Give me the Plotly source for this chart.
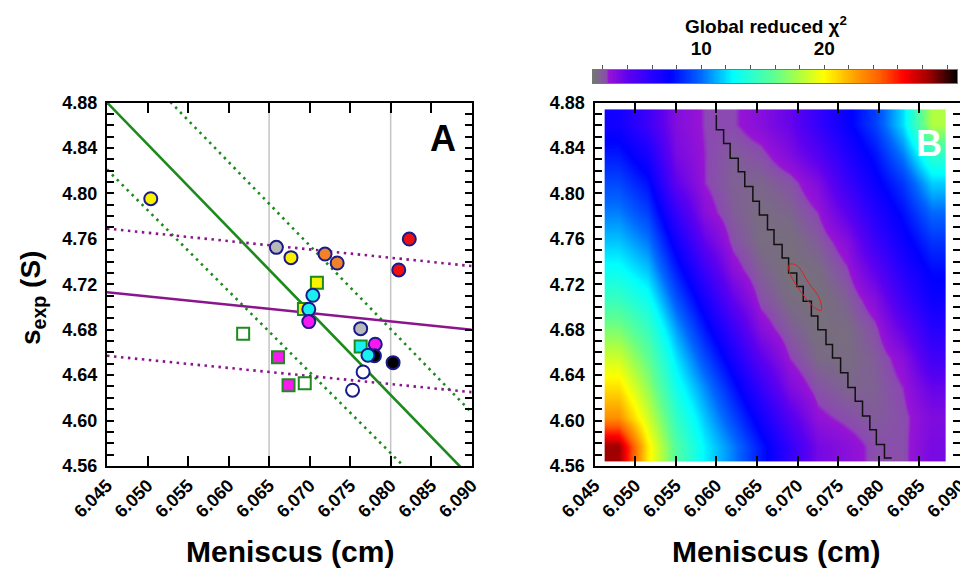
import numpy as np
import plotly.graph_objects as go

# ---------------- data : panel A ----------------
circle_meniscus = [6.0504, 6.0659, 6.0677, 6.0719, 6.0734, 6.0823, 6.0810, 6.0704, 6.0699,
                   6.0699, 6.0763, 6.0781, 6.0780, 6.0772, 6.0803, 6.0766, 6.0753]
circle_sexp = [4.7953, 4.7525, 4.7434, 4.7466, 4.7387, 4.7598, 4.7326, 4.7103, 4.6980,
               4.6871, 4.6809, 4.6672, 4.6570, 4.6575, 4.6510, 4.6428, 4.6267]
circle_group = ["yellow", "gray", "yellow", "orange", "orange", "red", "red", "cyan", "cyan",
                "magenta", "gray", "magenta", "black", "cyan", "black", "open", "open"]

square_meniscus = [6.0709, 6.0693, 6.0618, 6.0763, 6.0661, 6.0674, 6.0694]
square_sexp = [4.7214, 4.6982, 4.6765, 4.6651, 4.6557, 4.6311, 4.6329]
square_group = ["yellow", "yellow", "open", "cyan", "magenta", "magenta", "open"]

fit_meniscus = [6.045, 6.090]
green_fit = [4.880, 4.549]
green_upper = [4.938, 4.607]
green_lower = [4.821, 4.500]
purple_fit = [4.713, 4.680]
purple_upper = [4.769, 4.736]
purple_lower = [4.657, 4.625]

ref_meniscus = [6.065, 6.080]

# ---------------- data : panel B ----------------
grid_meniscus = [6.0480, 6.0515, 6.0550, 6.0585, 6.0620, 6.0655,
                 6.0690, 6.0725, 6.0760, 6.0795, 6.0830, 6.0865]
grid_sexp = [4.5772, 4.6030, 4.6288, 4.6546, 4.6804, 4.7062,
             4.7320, 4.7578, 4.7836, 4.8094, 4.8352, 4.8610]
chi2 = [
    [28.5, 20.5, 15.5, 12.4, 10.4, 8.0, 5.6, 3.4, 2.8, 2.2, 2.2, 3.3],
    [23.0, 18.8, 14.4, 11.6, 9.2, 6.8, 4.4, 2.6, 2.2, 1.9, 2.2, 3.1],
    [20.8, 17.3, 13.2, 10.6, 8.0, 5.5, 3.1, 2.1, 1.7, 1.8, 2.4, 3.8],
    [18.8, 16.0, 12.2, 9.3, 6.7, 4.1, 2.4, 1.6, 1.5, 1.9, 2.8, 5.0],
    [16.7, 14.6, 11.0, 8.0, 5.4, 2.9, 1.9, 1.4, 1.5, 2.2, 3.9, 6.0],
    [14.6, 13.1, 9.6, 6.7, 4.0, 2.2, 1.5, 1.3, 1.8, 2.9, 5.1, 7.0],
    [12.9, 11.6, 8.2, 5.3, 2.8, 1.8, 1.3, 1.5, 2.3, 4.0, 6.1, 7.7],
    [11.6, 10.3, 6.9, 3.9, 2.2, 1.5, 1.4, 1.9, 2.9, 5.2, 7.0, 8.7],
    [10.4, 9.0, 5.5, 2.8, 1.9, 1.5, 1.7, 2.4, 4.1, 6.2, 7.8, 10.0],
    [9.2, 7.8, 4.0, 2.4, 1.8, 1.7, 2.1, 3.1, 5.3, 7.1, 8.8, 11.8],
    [8.0, 6.5, 3.3, 2.4, 1.9, 2.2, 3.1, 4.4, 6.3, 7.9, 10.4, 14.3],
    [6.8, 5.2, 3.0, 2.35, 2.3, 2.9, 3.8, 5.5, 7.2, 9.0, 12.0, 18.0],
]
chi2_min, chi2_max = 1.2, 30.8

valley_sexp = [4.869, 4.856, 4.844, 4.831, 4.819, 4.806, 4.793, 4.781, 4.768, 4.755, 4.743,
               4.730, 4.718, 4.705, 4.692, 4.680, 4.667, 4.655, 4.642, 4.629, 4.617, 4.604,
               4.592, 4.579, 4.567]
valley_meniscus = [6.0600, 6.0609, 6.0617, 6.0627, 6.0635, 6.0645, 6.0653, 6.0663, 6.0671,
                   6.0681, 6.0689, 6.0699, 6.0707, 6.0717, 6.0725, 6.0735, 6.0743, 6.0753,
                   6.0762, 6.0771, 6.0780, 6.0789, 6.0797, 6.0807, 6.0816]

ellipse_meniscus = [6.0690, 6.0699, 6.0713, 6.0727, 6.0729, 6.0720, 6.0703, 6.0690, 6.0690]
ellipse_sexp = [4.7374, 4.7366, 4.7219, 4.7073, 4.6970, 4.6999, 4.7146, 4.7307, 4.7374]

colorbar_minor_ticks = list(range(2, 31, 2))
colorbar_labelled_ticks = [10, 20]

# ---------------- styles ----------------
FONT = "Liberation Sans"
fill_colors = {"yellow": "#fbf200", "gray": "#b8b8b8", "orange": "#f0822a", "red": "#ee1010",
               "cyan": "#18f0f0", "magenta": "#f818f0", "black": "#000000", "open": "#ffffff"}
GREEN = "#1c8a1c"
PURPLE = "#8a168e"
NAVY = "#1a1a8a"
stops = [(1.2, "#747474"), (1.6, "#7a6a86"), (2.0, "#8458a0"), (2.35, "#8c48b4"),
         (2.45, "#9614d4"), (4.1, "#5c00f0"), (6.1, "#2400ff"), (7.5, "#0000ff"),
         (10.0, "#0068ff"), (12.6, "#00ffff"), (16.0, "#60ff90"), (18.0, "#b0ff40"),
         (20.0, "#ffff00"), (22.5, "#ffa000"), (24.5, "#ff6000"), (26.5, "#ff0000"),
         (28.5, "#a00000"), (30.8, "#000000")]
colorscale = [[(v - chi2_min) / (chi2_max - chi2_min), c] for v, c in stops]

fig = go.Figure()

# ---- Panel A ----
DOT = "2.5px,4.5px"
for yv, dash, col in [(green_upper, DOT, GREEN), (green_lower, DOT, GREEN),
                      (purple_upper, DOT, PURPLE), (purple_lower, DOT, PURPLE),
                      (green_fit, "solid", GREEN), (purple_fit, "solid", PURPLE)]:
    fig.add_trace(go.Scatter(x=fit_meniscus, y=yv, mode="lines", xaxis="x", yaxis="y",
                             line=dict(color=col, width=2.6, dash=dash), hoverinfo="skip"))

fig.add_trace(go.Scatter(x=square_meniscus, y=square_sexp, mode="markers", xaxis="x", yaxis="y",
                         marker=dict(symbol="square", size=12,
                                     color=[fill_colors[g] for g in square_group],
                                     line=dict(color=GREEN, width=2))))
fig.add_trace(go.Scatter(x=circle_meniscus, y=circle_sexp, mode="markers", xaxis="x", yaxis="y",
                         marker=dict(symbol="circle", size=13,
                                     color=[fill_colors[g] for g in circle_group],
                                     line=dict(color=NAVY, width=2))))

for v in ref_meniscus:
    fig.add_shape(type="line", xref="x", yref="y domain", x0=v, x1=v, y0=0, y1=1,
                  line=dict(color="#c4c4c4", width=1.5), layer="below")

# ---- Panel B ----
fig.add_trace(go.Heatmap(x=grid_meniscus, y=grid_sexp, z=chi2, xaxis="x2", yaxis="y2",
                         coloraxis="coloraxis", zsmooth="best"))
fig.add_trace(go.Scatter(x=valley_meniscus, y=valley_sexp, mode="lines", xaxis="x2", yaxis="y2",
                         line=dict(color="#111111", width=1.5, shape="vh")))
fig.add_trace(go.Scatter(x=ellipse_meniscus, y=ellipse_sexp, mode="lines", xaxis="x2", yaxis="y2",
                         line=dict(color="#e02020", width=1, shape="spline")))

# ---- colour bar strip ----
ramp = np.linspace(chi2_min, chi2_max, 300)
fig.add_trace(go.Heatmap(x=ramp, y=[0.5], z=[ramp], xaxis="x3", yaxis="y3",
                         coloraxis="coloraxis", hoverinfo="skip"))

tickfont = dict(family=FONT, size=18, color="black", weight="bold")
xaxis_common = dict(range=[6.045, 6.090], tickmode="linear", tick0=6.045, dtick=0.005,
                    tickformat=".3f", ticks="inside", ticklen=10, tickwidth=2, tickcolor="black",
                    showline=True, linewidth=2, linecolor="black", mirror="ticks",
                    showgrid=False, zeroline=False, tickangle=-45, tickfont=tickfont,
                    ticklabeloverflow="allow", automargin=False, fixedrange=True)
yaxis_common = dict(range=[4.56, 4.88], tickmode="linear", tick0=4.56, dtick=0.04,
                    tickformat=".2f", ticks="inside", ticklen=7, tickwidth=2, tickcolor="black",
                    minor=dict(dtick=0.01, ticks="inside", ticklen=7, tickwidth=2,
                               tickcolor="black", showgrid=False),
                    showline=True, linewidth=2, linecolor="black", mirror="ticks",
                    showgrid=False, zeroline=False, tickfont=tickfont, ticklabelstandoff=4,
                    automargin=False, fixedrange=True)

yd = [1 - 466 / 568, 1 - 102.5 / 568]
fig.update_layout(
    width=960, height=568, margin=dict(l=0, r=0, t=0, b=0, autoexpand=False),
    paper_bgcolor="white", plot_bgcolor="white", showlegend=False,
    font=dict(family=FONT, color="black"),
    coloraxis=dict(colorscale=colorscale, cmin=chi2_min, cmax=chi2_max, showscale=False),
    xaxis=dict(domain=[107 / 960, 471.7 / 960], anchor="y", **xaxis_common),
    yaxis=dict(domain=yd, anchor="x", **yaxis_common),
    xaxis2=dict(domain=[594.5 / 960, 1.0], anchor="y2", **xaxis_common),
    yaxis2=dict(domain=yd, anchor="x2", **yaxis_common),
    xaxis3=dict(domain=[593 / 960, 957 / 960], anchor="y3", range=[chi2_min, chi2_max],
                side="top", tickmode="array", tickvals=colorbar_labelled_ticks,
                ticks="outside", ticklen=4, tickwidth=1, tickcolor="#555555",
                minor=dict(tickmode="array", tickvals=colorbar_minor_ticks, ticks="outside",
                           ticklen=4, tickwidth=1, tickcolor="#555555", showgrid=False),
                showline=True, linecolor="#777777", linewidth=1, mirror=True,
                showgrid=False, zeroline=False, ticklabelstandoff=2,
                tickfont=dict(family=FONT, size=19, color="black", weight="bold"),
                automargin=False, fixedrange=True),
    yaxis3=dict(domain=[1 - 83 / 568, 1 - 70 / 568], anchor="x3", range=[0, 1],
                showticklabels=False, ticks="", showline=True, linecolor="#777777",
                linewidth=1, mirror=True, showgrid=False, zeroline=False,
                automargin=False, fixedrange=True),
)

ann = [
    dict(text="<b>Global reduced χ<sup>2</sup></b>", x=766 / 960, y=1 - 25 / 568, size=19,
         color="black"),
    dict(text="<b>A</b>", x=443 / 960, y=1 - 138 / 568, size=36, color="black"),
    dict(text="<b>B</b>", x=929 / 960, y=1 - 143 / 568, size=36, color="white"),
    dict(text="<b>Meniscus (cm)</b>", x=290 / 960, y=1 - 551 / 568, size=30, color="black"),
    dict(text="<b>Meniscus (cm)</b>", x=776 / 960, y=1 - 551 / 568, size=30, color="black"),
    dict(text="<b>s<sub>exp</sub> (S)</b>", x=32 / 960, y=1 - 298 / 568, size=28,
         color="black", textangle=-90),
]
for a in ann:
    size = a.pop("size")
    color = a.pop("color")
    fig.add_annotation(xref="paper", yref="paper", showarrow=False, xanchor="center",
                       yanchor="middle", font=dict(family=FONT, size=size, color=color), **a)

fig.write_html("out.html")
